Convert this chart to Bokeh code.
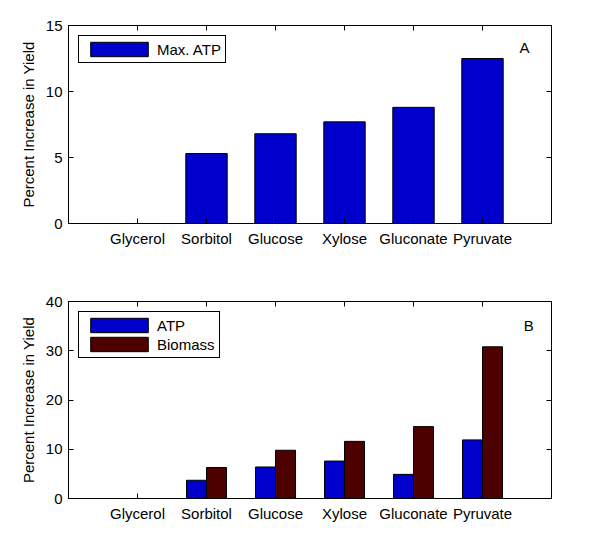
from bokeh.plotting import figure
from bokeh.models import (ColumnDataSource, FactorRange, CategoricalAxis, LinearAxis,
                          Range1d, FixedTicker, Label)
from bokeh.layouts import column
from bokeh.transform import dodge
from bokeh.embed import file_html
from bokeh.resources import INLINE

# ---------------- data ----------------
categories = ["Glycerol", "Sorbitol", "Glucose", "Xylose", "Gluconate", "Pyruvate"]
max_atp = [0.0, 5.3, 6.8, 7.7, 8.8, 12.5]
atp = [0.0, 3.7, 6.4, 7.6, 4.9, 11.9]
biomass = [0.0, 6.3, 9.8, 11.6, 14.6, 30.8]
ticks_a = [0, 5, 10, 15]
ticks_b = [0, 10, 20, 30, 40]
y_label = "Percent Increase in Yield"

FONT = "Liberation Sans"
FS = "15px"
BLUE = "#0000CC"
DARKRED = "#4D0000"


def style_axis(ax, labels=True):
    ax.axis_line_color = "black"
    ax.axis_line_width = 1
    ax.major_tick_line_color = "black"
    ax.major_tick_in = 5
    ax.major_tick_out = 0
    ax.minor_tick_line_color = None
    ax.major_label_text_font = FONT
    ax.major_label_text_font_size = FS
    ax.major_label_standoff = 6
    if labels:
        ax.major_label_text_color = "black"
    else:
        ax.major_label_text_color = None
        ax.major_label_standoff = 0


def make_fig(height, top, bottom, ymax, yticks):
    p = figure(x_range=FactorRange(factors=categories, range_padding=0.5,
                                   range_padding_units="absolute"),
               y_range=Range1d(0, ymax),
               width=584, height=height,
               min_border_left=68, min_border_right=33,
               min_border_top=top, min_border_bottom=bottom,
               toolbar_location=None, output_backend="svg")
    p.xgrid.grid_line_color = None
    p.ygrid.grid_line_color = None
    p.outline_line_color = "black"
    p.outline_line_alpha = 1
    p.background_fill_color = "white"
    p.border_fill_color = "white"

    p.yaxis.ticker = FixedTicker(ticks=yticks)
    for ax in p.xaxis + p.yaxis:
        style_axis(ax)
    p.yaxis.axis_label = y_label
    p.yaxis.axis_label_text_font = FONT
    p.yaxis.axis_label_text_font_size = FS
    p.yaxis.axis_label_text_font_style = "normal"
    p.yaxis.axis_label_text_color = "black"
    p.yaxis.axis_label_standoff = 6

    top_ax = CategoricalAxis()
    style_axis(top_ax, labels=False)
    p.add_layout(top_ax, "above")
    right_ax = LinearAxis(ticker=FixedTicker(ticks=yticks))
    style_axis(right_ax, labels=False)
    p.add_layout(right_ax, "right")
    return p


def style_legend(p):
    lg = p.legend[0]
    lg.location = "top_left"
    lg.margin = 10
    lg.padding = 4
    lg.spacing = 1
    lg.glyph_width = 72
    lg.glyph_height = 18
    lg.label_height = 18
    lg.label_standoff = 2
    lg.label_text_font = FONT
    lg.label_text_font_size = FS
    lg.label_text_color = "black"
    lg.border_line_color = "black"
    lg.border_line_width = 1
    lg.border_line_alpha = 1
    lg.background_fill_color = "white"
    lg.background_fill_alpha = 1


src = ColumnDataSource(data=dict(cat=categories, max_atp=max_atp, atp=atp, biomass=biomass))

# -------- panel A --------
p1 = make_fig(273, 25, 50, 15, ticks_a)
p1.vbar(x="cat", top="max_atp", width=0.6, source=src, fill_color=BLUE,
        line_color="black", line_width=1, legend_label="Max. ATP")
style_legend(p1)
p1.add_layout(Label(x=6.11, y=13.36, text="A", text_align="center", text_baseline="middle",
                    text_font=FONT, text_font_size=FS, text_color="black"))

# -------- panel B --------
p2 = make_fig(255, 28, 30, 40, ticks_b)
p2.vbar(x=dodge("cat", -0.145, range=p2.x_range), top="atp", width=0.29, source=src,
        fill_color=BLUE, line_color="black", line_width=1, legend_label="ATP")
p2.vbar(x=dodge("cat", 0.145, range=p2.x_range), top="biomass", width=0.29, source=src,
        fill_color=DARKRED, line_color="black", line_width=1, legend_label="Biomass")
style_legend(p2)
p2.add_layout(Label(x=6.17, y=35.1, text="B", text_align="center", text_baseline="middle",
                    text_font=FONT, text_font_size=FS, text_color="black"))

layout = column(p1, p2, spacing=0)
open("out.html", "w").write(file_html(layout, INLINE))
